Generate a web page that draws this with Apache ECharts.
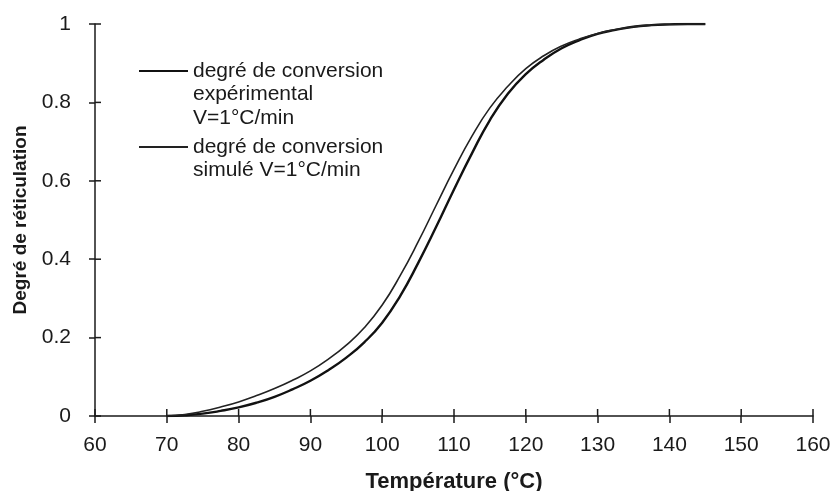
<!DOCTYPE html>
<html>
<head>
<meta charset="utf-8">
<script src="https://cdn.jsdelivr.net/npm/echarts@6/dist/echarts.min.js"></script>
<style>html,body{margin:0;padding:0;background:#fff;}#c{width:835px;height:491px;}</style>
</head>
<body>
<div id="c"></div>
<script>
// Data
const tempSim = [70, 72.5, 75, 77.5, 80, 82.5, 85, 87.5, 90, 92.5, 95, 97.5, 100, 102.5, 105, 107.5, 110, 112.5, 115, 117.5, 120, 122.5, 125, 127.5, 130, 132.5, 135, 137.5, 140, 142.5, 145];
const valSim  = [0, 0.004, 0.012, 0.023, 0.036, 0.052, 0.07, 0.091, 0.115, 0.145, 0.181, 0.225, 0.283, 0.358, 0.444, 0.537, 0.629, 0.714, 0.786, 0.841, 0.886, 0.919, 0.944, 0.962, 0.976, 0.986, 0.993, 0.997, 0.999, 1.0, 1.0];
const tempExp = [70, 72.5, 75, 77.5, 80, 82.5, 85, 87.5, 90, 92.5, 95, 97.5, 100, 102.5, 105, 107.5, 110, 112.5, 115, 117.5, 120, 122.5, 125, 127.5, 130, 132.5, 135, 137.5, 140, 142.5, 145];
const valExp  = [0, 0.002, 0.006, 0.013, 0.022, 0.034, 0.049, 0.068, 0.09, 0.117, 0.149, 0.188, 0.238, 0.306, 0.39, 0.482, 0.578, 0.67, 0.755, 0.822, 0.872, 0.909, 0.938, 0.959, 0.975, 0.985, 0.993, 0.997, 0.999, 1.0, 1.0];
const xTickVals = [60, 70, 80, 90, 100, 110, 120, 130, 140, 150, 160];
const yTickVals = [0, 0.2, 0.4, 0.6, 0.8, 1];
const nameExp = 'degré de conversion expérimental V=1°C/min';
const nameSim = 'degré de conversion simulé V=1°C/min';
const legendLabels = {};
legendLabels[nameExp] = '\n\ndegré de conversion\nexpérimental\nV=1°C/min';
legendLabels[nameSim] = '\ndegré de conversion\nsimulé V=1°C/min';

const pairs = (xs, ys) => xs.map((x, i) => [x, ys[i]]);
const FONT = 'Liberation Sans';
const INK = '#1a1a1a';
const LH = 23.5;
const xMin = xTickVals[0], xMax = xTickVals[xTickVals.length - 1];
const yMin = yTickVals[0], yMax = yTickVals[yTickVals.length - 1];

const chart = echarts.init(document.getElementById('c'), null, {renderer: 'canvas'});
const tickLine = {color: INK, width: 1.5};
chart.setOption({
  backgroundColor: '#fff',
  animation: false,
  grid: {left: 95, right: 22, top: 24, bottom: 75, containLabel: false, outerBoundsMode: 'none'},
  legend: [
    {data: [nameExp], left: 133, top: 71 - 5 - (5 * LH) / 2, orient: 'vertical', itemWidth: 49, itemHeight: 12,
     formatter: n => legendLabels[n], itemStyle: {opacity: 0, color: 'transparent', borderWidth: 0},
     textStyle: {fontFamily: FONT, fontSize: 21, color: INK, lineHeight: LH}},
    {data: [nameSim], left: 133, top: 147 - 5 - (3 * LH) / 2, orient: 'vertical', itemWidth: 49, itemHeight: 12,
     formatter: n => legendLabels[n], itemStyle: {opacity: 0, color: 'transparent', borderWidth: 0},
     textStyle: {fontFamily: FONT, fontSize: 21, color: INK, lineHeight: LH}}
  ],
  xAxis: {
    type: 'value', min: xMin, max: xMax, interval: xTickVals[1] - xTickVals[0],
    name: 'Température (°C)', nameLocation: 'middle', nameGap: 55,
    nameTextStyle: {fontFamily: FONT, fontSize: 22, fontWeight: 'bold', color: INK},
    axisLine: {show: true, lineStyle: tickLine},
    axisTick: {show: true, inside: false, length: 7, lineStyle: tickLine},
    axisLabel: {fontFamily: FONT, fontSize: 21, color: INK, margin: 19},
    splitLine: {show: false}
  },
  yAxis: {
    type: 'value', min: yMin, max: yMax, interval: yTickVals[1] - yTickVals[0],
    name: 'Degré de réticulation', nameLocation: 'middle', nameGap: 65, nameRotate: 90,
    nameTextStyle: {fontFamily: FONT, fontSize: 19, fontWeight: 'bold', color: INK},
    axisLine: {show: true, lineStyle: tickLine},
    axisTick: {show: true, inside: false, length: 6, lineStyle: tickLine},
    axisLabel: {fontFamily: FONT, fontSize: 21, color: INK, margin: 24},
    splitLine: {show: false}
  },
  series: [
    {name: nameExp, type: 'line', data: pairs(tempExp, valExp),
     smooth: true, symbol: 'none', lineStyle: {color: '#111', width: 2.4}, itemStyle: {color: '#111'}},
    {name: nameSim, type: 'line', data: pairs(tempSim, valSim),
     smooth: true, symbol: 'none', lineStyle: {color: '#222', width: 1.6}, itemStyle: {color: '#222'}},
    {name: 'xTicksIn', type: 'custom', silent: true, clip: false, data: xTickVals.map(v => [v, yMin]),
     renderItem: (params, api) => {
       const p = api.coord([api.value(0), api.value(1)]);
       return {type: 'line', shape: {x1: p[0], y1: p[1], x2: p[0], y2: p[1] - 7},
               style: {stroke: INK, lineWidth: 1.5}};
     }},
    {name: 'yTicksIn', type: 'custom', silent: true, clip: false, data: yTickVals.map(v => [xMin, v]),
     renderItem: (params, api) => {
       const p = api.coord([api.value(0), api.value(1)]);
       return {type: 'line', shape: {x1: p[0], y1: p[1], x2: p[0] + 6, y2: p[1]},
               style: {stroke: INK, lineWidth: 1.5}};
     }}
  ]
});
</script>
</body>
</html>
